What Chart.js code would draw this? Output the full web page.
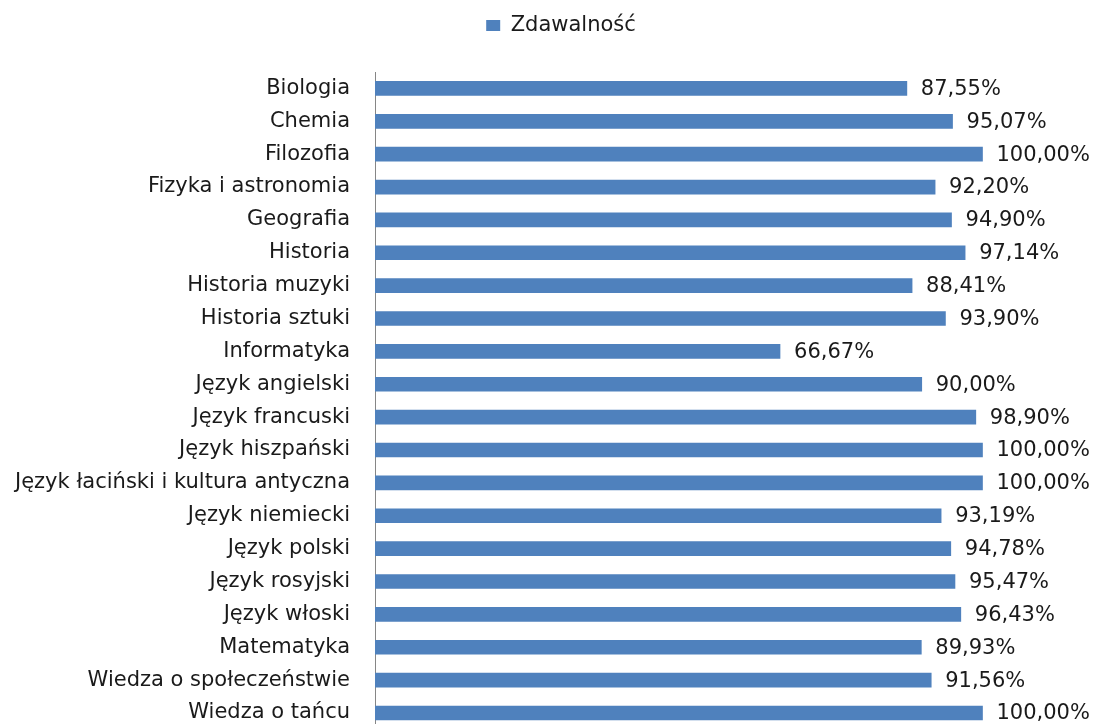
<!DOCTYPE html>
<html>
<head>
<meta charset="utf-8">
<script src="https://cdn.jsdelivr.net/npm/chart.js@4.4.1/dist/chart.umd.min.js"></script>
<style>
  html, body { margin: 0; padding: 0; background: #fff; overflow: hidden; }
  #myChart { display: block; }
</style>
</head>
<body>
<canvas id="myChart" width="1104" height="767"></canvas>
<script>
// przedmioty i zdawalnosc (%)
const przedmioty = [
  'Biologia', 'Chemia', 'Filozofia', 'Fizyka i astronomia', 'Geografia',
  'Historia', 'Historia muzyki', 'Historia sztuki', 'Informatyka',
  'Język angielski', 'Język francuski', 'Język hiszpański',
  'Język łaciński i kultura antyczna', 'Język niemiecki', 'Język polski',
  'Język rosyjski', 'Język włoski', 'Matematyka',
  'Wiedza o społeczeństwie', 'Wiedza o tańcu'
];
const zdawalnosc = [
  87.55, 95.07, 100.00, 92.20, 94.90,
  97.14, 88.41, 93.90, 66.67,
  90.00, 98.90, 100.00,
  100.00, 93.19, 94.78,
  95.47, 96.43, 89.93,
  91.56, 100.00
];
const seriesName = 'Zdawalność';

const FONT = '"DejaVu Sans", sans-serif';
const textColor = '#1a1a1a';

function fmt(v) {
  return v.toFixed(2).replace('.', ',') + '%';
}

// legenda: wieksza wysokosc + lekkie przesuniecie w prawo
const legendFix = {
  id: 'legendFix',
  beforeInit(chart) {
    const orig = chart.legend.fit;
    chart.legend.fit = function() {
      orig.bind(chart.legend)();
      this.height = 72;
    };
  },
  afterLayout(chart) {
    chart.legend.left += 4;
    chart.legend.right += 4;
  }
};

// etykiety wartosci przy slupkach
const valueLabels = {
  id: 'valueLabels',
  afterDatasetsDraw(chart) {
    const ctx = chart.ctx;
    const meta = chart.getDatasetMeta(0);
    ctx.save();
    ctx.font = '21px ' + FONT;
    ctx.fillStyle = textColor;
    ctx.textAlign = 'left';
    ctx.textBaseline = 'middle';
    meta.data.forEach((bar, i) => {
      ctx.fillText(fmt(zdawalnosc[i]), bar.x + 14, bar.y + 1);
    });
    ctx.restore();
  }
};

const ctx = document.getElementById('myChart').getContext('2d');
let chart = new Chart(ctx, {
  type: 'bar',
  data: {
    labels: przedmioty,
    datasets: [{
      label: seriesName,
      data: zdawalnosc,
      backgroundColor: '#4F81BD',
      borderWidth: 0,
      barThickness: 14
    }]
  },
  options: {
    indexAxis: 'y',
    responsive: false,
    animation: false,
    layout: { padding: { left: 10, right: 0, top: 0, bottom: 0 } },
    scales: {
      x: {
        display: false,
        min: 0,
        max: 120
      },
      y: {
        grid: { display: false, drawTicks: false },
        border: { display: true, color: '#868686', width: 1 },
        ticks: {
          autoSkip: false,
          padding: 25,
          color: textColor,
          font: { family: FONT, size: 21 }
        },
        afterFit(scale) { scale.width = 365; }
      }
    },
    plugins: {
      legend: {
        position: 'top',
        labels: {
          boxWidth: 14,
          boxHeight: 11,
          padding: 15,
          color: textColor,
          font: { family: FONT, size: 21 }
        }
      },
      tooltip: { enabled: false }
    }
  },
  plugins: [legendFix, valueLabels]
});
</script>
</body>
</html>
